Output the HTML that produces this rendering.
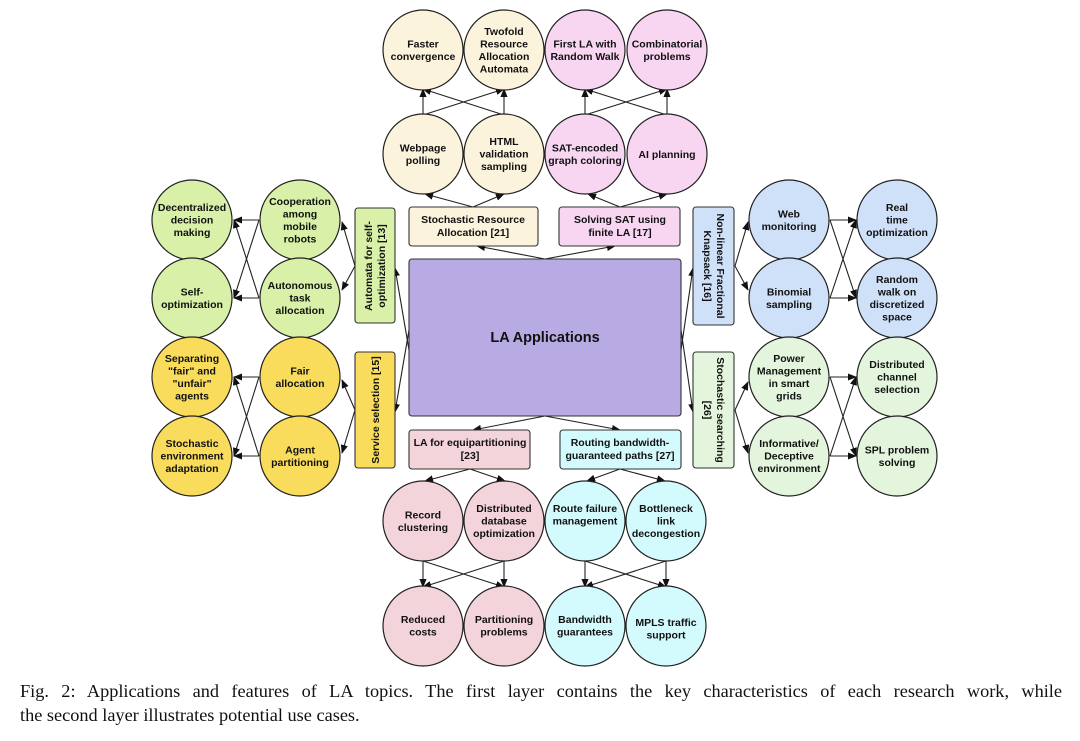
<!DOCTYPE html>
<html><head><meta charset="utf-8">
<style>
html,body{margin:0;padding:0;background:#fff;}
body{width:1080px;height:741px;overflow:hidden;position:relative;}
svg{position:absolute;left:0;top:0;}
svg text{font-family:"Liberation Sans",sans-serif;font-weight:bold;font-size:10.5px;fill:#111;text-anchor:middle;}
.cap{position:absolute;left:20px;width:1042px;font-family:"Liberation Serif",serif;font-size:18.3px;line-height:24px;color:#111;white-space:nowrap;}
.l1{top:679px;text-align:justify;text-align-last:justify;}
.l2{top:703px;}
</style></head><body>
<svg width="1080" height="741" viewBox="0 0 1080 741">
<defs>
<marker id="a" viewBox="0 0 10 10" refX="9" refY="5" markerWidth="9" markerHeight="9" orient="auto" markerUnits="userSpaceOnUse">
<path d="M0,1 L10,5 L0,9 z" fill="#111"/></marker>
</defs>
<g stroke="#222" stroke-width="1.1" fill="none" marker-end="url(#a)">
<line x1="545" y1="259" x2="477" y2="246"/><line x1="545" y1="259" x2="615" y2="246"/>
<line x1="473" y1="207" x2="425" y2="194"/><line x1="473" y1="207" x2="504" y2="194"/>
<line x1="620" y1="207" x2="588" y2="194"/><line x1="620" y1="207" x2="667" y2="194"/>
<line x1="423" y1="115" x2="423" y2="89"/><line x1="423" y1="115" x2="504" y2="89"/>
<line x1="504" y1="115" x2="504" y2="89"/><line x1="504" y1="115" x2="423" y2="89"/>
<line x1="585" y1="115" x2="585" y2="89"/><line x1="585" y1="115" x2="667" y2="89"/>
<line x1="667" y1="115" x2="667" y2="89"/><line x1="667" y1="115" x2="585" y2="89"/>
<line x1="545" y1="416" x2="473" y2="430"/><line x1="545" y1="416" x2="620" y2="430"/>
<line x1="470" y1="469" x2="425" y2="481"/><line x1="470" y1="469" x2="505" y2="481"/>
<line x1="620" y1="469" x2="587" y2="481"/><line x1="620" y1="469" x2="665" y2="481"/>
<line x1="423" y1="561" x2="423" y2="587"/><line x1="423" y1="561" x2="504" y2="587"/>
<line x1="504" y1="561" x2="504" y2="587"/><line x1="504" y1="561" x2="423" y2="587"/>
<line x1="585" y1="561" x2="585" y2="587"/><line x1="585" y1="561" x2="666" y2="587"/>
<line x1="666" y1="561" x2="666" y2="587"/><line x1="666" y1="561" x2="585" y2="587"/>
<line x1="409" y1="350" x2="395" y2="268"/><line x1="409" y1="330" x2="395" y2="412"/>
<line x1="355" y1="266" x2="342" y2="222"/><line x1="355" y1="266" x2="342" y2="290"/>
<line x1="355" y1="410" x2="342" y2="380"/><line x1="355" y1="410" x2="342" y2="453"/>
<line x1="259" y1="220" x2="234" y2="220"/><line x1="259" y1="220" x2="234" y2="298"/>
<line x1="259" y1="298" x2="234" y2="298"/><line x1="259" y1="298" x2="234" y2="220"/>
<line x1="259" y1="377" x2="234" y2="377"/><line x1="259" y1="377" x2="234" y2="456"/>
<line x1="259" y1="456" x2="234" y2="456"/><line x1="259" y1="456" x2="234" y2="377"/>
<line x1="681" y1="350" x2="693" y2="268"/><line x1="681" y1="330" x2="693" y2="412"/>
<line x1="735" y1="266" x2="748" y2="222"/><line x1="735" y1="266" x2="748" y2="290"/>
<line x1="735" y1="410" x2="748" y2="382"/><line x1="735" y1="410" x2="748" y2="453"/>
<line x1="830" y1="220" x2="856" y2="220"/><line x1="830" y1="220" x2="856" y2="298"/>
<line x1="830" y1="298" x2="856" y2="298"/><line x1="830" y1="298" x2="856" y2="220"/>
<line x1="830" y1="377" x2="856" y2="377"/><line x1="830" y1="377" x2="856" y2="456"/>
<line x1="830" y1="456" x2="856" y2="456"/><line x1="830" y1="456" x2="856" y2="377"/>
</g>
<g stroke="#333" stroke-width="1.1">
<rect x="409" y="259" width="272" height="157" rx="3" fill="#b8abe3"/>
<rect x="409" y="207" width="129" height="39" rx="3" fill="#fcf3dc"/>
<rect x="559" y="207" width="121" height="39" rx="3" fill="#f8d6f2"/>
<rect x="409" y="430" width="121" height="39" rx="3" fill="#f3d4db"/>
<rect x="560" y="430" width="121" height="39" rx="3" fill="#d3fbfd"/>
<rect x="355" y="208" width="40" height="115" rx="3" fill="#d9f0a8"/>
<rect x="355" y="352" width="40" height="116" rx="3" fill="#f9dc5c"/>
<rect x="693" y="207" width="41" height="118" rx="3" fill="#cfe0f9"/>
<rect x="693" y="352" width="41" height="116" rx="3" fill="#e3f5dc"/>
</g>
<g stroke="#222" stroke-width="1.2">
<g fill="#fcf3dc"><circle cx="423" cy="50" r="40"/><circle cx="504" cy="50" r="40"/><circle cx="423" cy="154" r="40"/><circle cx="504" cy="154" r="40"/></g>
<g fill="#f8d6f2"><circle cx="585" cy="50" r="40"/><circle cx="667" cy="50" r="40"/><circle cx="585" cy="154" r="40"/><circle cx="667" cy="154" r="40"/></g>
<g fill="#d9f0a8"><circle cx="192" cy="220" r="40"/><circle cx="300" cy="220" r="40"/><circle cx="192" cy="298" r="40"/><circle cx="300" cy="298" r="40"/></g>
<g fill="#f9dc5c"><circle cx="192" cy="377" r="40"/><circle cx="300" cy="377" r="40"/><circle cx="192" cy="456" r="40"/><circle cx="300" cy="456" r="40"/></g>
<g fill="#cfe0f9"><circle cx="789" cy="220" r="40"/><circle cx="897" cy="220" r="40"/><circle cx="789" cy="298" r="40"/><circle cx="897" cy="298" r="40"/></g>
<g fill="#e3f5dc"><circle cx="789" cy="377" r="40"/><circle cx="897" cy="377" r="40"/><circle cx="789" cy="456" r="40"/><circle cx="897" cy="456" r="40"/></g>
<g fill="#f3d4db"><circle cx="423" cy="521" r="40"/><circle cx="504" cy="521" r="40"/><circle cx="423" cy="626" r="40"/><circle cx="504" cy="626" r="40"/></g>
<g fill="#d3fbfd"><circle cx="585" cy="521" r="40"/><circle cx="666" cy="521" r="40"/><circle cx="585" cy="626" r="40"/><circle cx="666" cy="626" r="40"/></g>
</g>
<text x="545" y="342" style="font-size:14.5px">LA Applications</text>
<text x="473" y="223"><tspan x="473">Stochastic Resource</tspan><tspan x="473" dy="13">Allocation [21]</tspan></text>
<text x="620" y="223"><tspan x="620">Solving SAT using</tspan><tspan x="620" dy="13">finite LA [17]</tspan></text>
<text x="470" y="446"><tspan x="470">LA for equipartitioning</tspan><tspan x="470" dy="13">[23]</tspan></text>
<text x="620" y="446"><tspan x="620">Routing bandwidth-</tspan><tspan x="620" dy="13">guaranteed paths [27]</tspan></text>
<text transform="translate(375,266) rotate(-90)"><tspan x="0" y="-3">Automata for self-</tspan><tspan x="0" y="10">optimization [13]</tspan></text>
<text transform="translate(375,410) rotate(-90)"><tspan x="0" y="4">Service selection [15]</tspan></text>
<text transform="translate(714,266) rotate(90)"><tspan x="0" y="-3">Non-linear Fractional</tspan><tspan x="0" y="10">Knapsack [16]</tspan></text>
<text transform="translate(714,410) rotate(90)"><tspan x="0" y="-3">Stochastic searching</tspan><tspan x="0" y="10">[26]</tspan></text>

<text y="47.5"><tspan x="423">Faster</tspan><tspan x="423" dy="12.5">convergence</tspan></text>
<text y="35"><tspan x="504">Twofold</tspan><tspan x="504" dy="12.5">Resource</tspan><tspan x="504" dy="12.5">Allocation</tspan><tspan x="504" dy="12.5">Automata</tspan></text>
<text y="47.5"><tspan x="585">First LA with</tspan><tspan x="585" dy="12.5">Random Walk</tspan></text>
<text y="47.5"><tspan x="667">Combinatorial</tspan><tspan x="667" dy="12.5">problems</tspan></text>
<text y="151.5"><tspan x="423">Webpage</tspan><tspan x="423" dy="12.5">polling</tspan></text>
<text y="145"><tspan x="504">HTML</tspan><tspan x="504" dy="12.5">validation</tspan><tspan x="504" dy="12.5">sampling</tspan></text>
<text y="151.5"><tspan x="585">SAT-encoded</tspan><tspan x="585" dy="12.5">graph coloring</tspan></text>
<text y="158"><tspan x="667">AI planning</tspan></text>

<text y="211"><tspan x="192">Decentralized</tspan><tspan x="192" dy="12.5">decision</tspan><tspan x="192" dy="12.5">making</tspan></text>
<text y="205"><tspan x="300">Cooperation</tspan><tspan x="300" dy="12.5">among</tspan><tspan x="300" dy="12.5">mobile</tspan><tspan x="300" dy="12.5">robots</tspan></text>
<text y="295.5"><tspan x="192">Self-</tspan><tspan x="192" dy="12.5">optimization</tspan></text>
<text y="289"><tspan x="300">Autonomous</tspan><tspan x="300" dy="12.5">task</tspan><tspan x="300" dy="12.5">allocation</tspan></text>
<text y="362"><tspan x="192">Separating</tspan><tspan x="192" dy="12.5">"fair" and</tspan><tspan x="192" dy="12.5">"unfair"</tspan><tspan x="192" dy="12.5">agents</tspan></text>
<text y="374.5"><tspan x="300">Fair</tspan><tspan x="300" dy="12.5">allocation</tspan></text>
<text y="447"><tspan x="192">Stochastic</tspan><tspan x="192" dy="12.5">environment</tspan><tspan x="192" dy="12.5">adaptation</tspan></text>
<text y="453.5"><tspan x="300">Agent</tspan><tspan x="300" dy="12.5">partitioning</tspan></text>

<text y="217.5"><tspan x="789">Web</tspan><tspan x="789" dy="12.5">monitoring</tspan></text>
<text y="211"><tspan x="897">Real</tspan><tspan x="897" dy="12.5">time</tspan><tspan x="897" dy="12.5">optimization</tspan></text>
<text y="295.5"><tspan x="789">Binomial</tspan><tspan x="789" dy="12.5">sampling</tspan></text>
<text y="283"><tspan x="897">Random</tspan><tspan x="897" dy="12.5">walk on</tspan><tspan x="897" dy="12.5">discretized</tspan><tspan x="897" dy="12.5">space</tspan></text>
<text y="362"><tspan x="789">Power</tspan><tspan x="789" dy="12.5">Management</tspan><tspan x="789" dy="12.5">in smart</tspan><tspan x="789" dy="12.5">grids</tspan></text>
<text y="368"><tspan x="897">Distributed</tspan><tspan x="897" dy="12.5">channel</tspan><tspan x="897" dy="12.5">selection</tspan></text>
<text y="447"><tspan x="789">Informative/</tspan><tspan x="789" dy="12.5">Deceptive</tspan><tspan x="789" dy="12.5">environment</tspan></text>
<text y="453.5"><tspan x="897">SPL problem</tspan><tspan x="897" dy="12.5">solving</tspan></text>

<text y="518.5"><tspan x="423">Record</tspan><tspan x="423" dy="12.5">clustering</tspan></text>
<text y="512"><tspan x="504">Distributed</tspan><tspan x="504" dy="12.5">database</tspan><tspan x="504" dy="12.5">optimization</tspan></text>
<text y="512"><tspan x="585">Route failure</tspan><tspan x="585" dy="12.5">management</tspan></text>
<text y="512"><tspan x="666">Bottleneck</tspan><tspan x="666" dy="12.5">link</tspan><tspan x="666" dy="12.5">decongestion</tspan></text>
<text y="623"><tspan x="423">Reduced</tspan><tspan x="423" dy="12.5">costs</tspan></text>
<text y="623"><tspan x="504">Partitioning</tspan><tspan x="504" dy="12.5">problems</tspan></text>
<text y="623"><tspan x="585">Bandwidth</tspan><tspan x="585" dy="12.5">guarantees</tspan></text>
<text y="626"><tspan x="666">MPLS traffic</tspan><tspan x="666" dy="12.5">support</tspan></text>
</svg>
<div class="cap l1">Fig. 2: Applications and features of LA topics. The first layer contains the key characteristics of each research work, while</div>
<div class="cap l2">the second layer illustrates potential use cases.</div>
</body></html>
